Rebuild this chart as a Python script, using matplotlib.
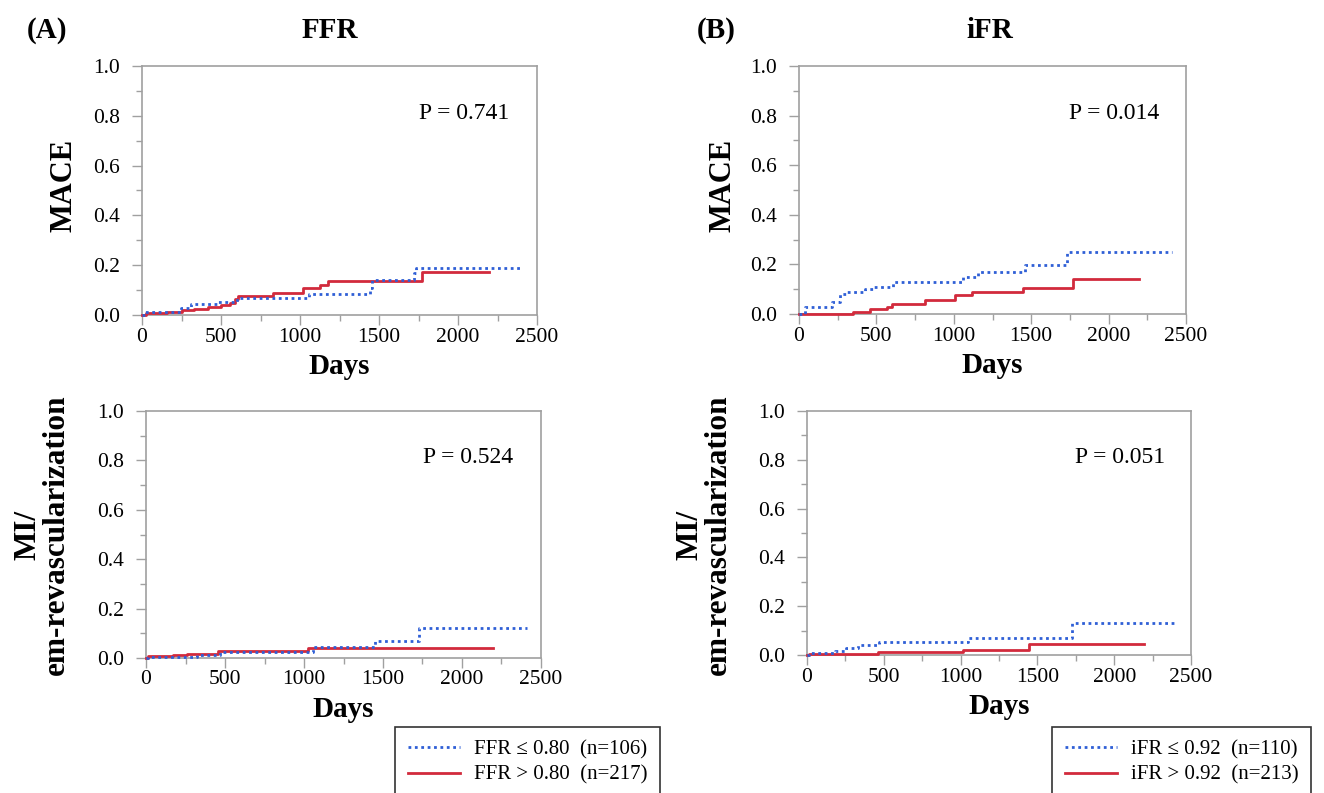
import matplotlib
matplotlib.use('Agg')
import matplotlib.pyplot as plt
from matplotlib.lines import Line2D
from matplotlib.ticker import MultipleLocator

plt.rcParams['font.family'] = ['Liberation Serif', 'DejaVu Serif']

# FFR, MACE
ffr_mace_low_days = [0, 20, 245, 310, 480, 600, 1060, 1440, 1455, 1720, 1735, 2410]
ffr_mace_low_vals = [0, 0.012, 0.030, 0.043, 0.054, 0.068, 0.085, 0.110, 0.139, 0.170, 0.189, 0.189]
ffr_mace_high_days = [0, 25, 160, 250, 330, 420, 500, 560, 590, 610, 830, 1020, 1125, 1180, 1775, 2195]
ffr_mace_high_vals = [0, 0.008, 0.012, 0.020, 0.025, 0.033, 0.040, 0.050, 0.063, 0.077, 0.090, 0.108, 0.120,
                      0.136, 0.173, 0.173]

# iFR, MACE
ifr_mace_low_days = [0, 39, 211, 265, 308, 427, 481, 610, 1062, 1159, 1461, 1731, 2409]
ifr_mace_low_vals = [0, 0.030, 0.050, 0.080, 0.090, 0.100, 0.110, 0.130, 0.148, 0.170, 0.197, 0.248, 0.248]
ifr_mace_high_days = [0, 351, 459, 567, 599, 815, 1009, 1116, 1444, 1769, 2194]
ifr_mace_high_vals = [0, 0.009, 0.019, 0.030, 0.042, 0.056, 0.077, 0.087, 0.106, 0.141, 0.141]

# FFR, MI / em-revascularization
ffr_mi_low_days = [0, 10, 321, 468, 1055, 1449, 1730, 2409]
ffr_mi_low_vals = [0, 0.004, 0.013, 0.024, 0.043, 0.070, 0.122, 0.122]
ffr_mi_high_days = [0, 10, 173, 257, 458, 1027, 2198]
ffr_mi_high_vals = [0, 0.007, 0.012, 0.018, 0.030, 0.040, 0.040]

# iFR, MI / em-revascularization
ifr_mi_low_days = [0, 10, 180, 257, 333, 470, 1050, 1724, 2387]
ifr_mi_low_vals = [0, 0.008, 0.018, 0.027, 0.041, 0.052, 0.070, 0.130, 0.130]
ifr_mi_high_days = [0, 10, 463, 1017, 1448, 2191]
ifr_mi_high_vals = [0, 0.004, 0.011, 0.020, 0.044, 0.044]

p_values = ['P = 0.741', 'P = 0.014', 'P = 0.524', 'P = 0.051']
ffr_labels = ['FFR \u2264 0.80  (n=106)', 'FFR > 0.80  (n=217)']
ifr_labels = ['iFR \u2264 0.92  (n=110)', 'iFR > 0.92  (n=213)']

BLUE = '#2f5fd6'
RED = '#d22a3c'
GRAY = '#a0a0a0'

W, H = 1324, 793
fig = plt.figure(figsize=(W / 100, H / 100), dpi=100)


def px_axes(left, right, bottom, top):
    return fig.add_axes([left / W, 1 - bottom / H, (right - left) / W, (bottom - top) / H])


def km_panel(ax, low_d, low_v, high_d, high_v, ptext):
    ax.step(low_d, low_v, where='post', color=BLUE, lw=2, linestyle=(0, (1, 1.3)), clip_on=False, zorder=4)
    ax.step(high_d, high_v, where='post', color=RED, lw=2, clip_on=False, zorder=3)
    ax.set_xlim(0, 2500)
    ax.set_ylim(0, 1.0)
    ax.xaxis.set_major_locator(MultipleLocator(500))
    ax.xaxis.set_minor_locator(MultipleLocator(250))
    ax.yaxis.set_major_locator(MultipleLocator(0.2))
    ax.yaxis.set_minor_locator(MultipleLocator(0.1))
    ax.yaxis.set_major_formatter(lambda v, p: '%.1f' % v)
    for s in ax.spines.values():
        s.set_color(GRAY)
        s.set_linewidth(1.2)
    ax.tick_params(which='major', direction='out', color=GRAY, labelsize=15.5, length=7, width=1)
    ax.tick_params(which='minor', direction='out', color=GRAY, length=4, width=1)
    ax.tick_params(axis='y', pad=9)
    ax.tick_params(axis='x', pad=2)
    ax.text(0.815, 0.81, ptext, transform=ax.transAxes, ha='center', va='center', fontsize=17)
    ax.set_xlabel('Days', fontsize=21, fontweight='bold', labelpad=5)


ax1 = px_axes(142, 537, 315, 66)
km_panel(ax1, ffr_mace_low_days, ffr_mace_low_vals, ffr_mace_high_days, ffr_mace_high_vals, p_values[0])
ax2 = px_axes(799, 1186, 314, 66)
km_panel(ax2, ifr_mace_low_days, ifr_mace_low_vals, ifr_mace_high_days, ifr_mace_high_vals, p_values[1])
ax3 = px_axes(146, 541, 658, 411)
km_panel(ax3, ffr_mi_low_days, ffr_mi_low_vals, ffr_mi_high_days, ffr_mi_high_vals, p_values[2])
ax4 = px_axes(807, 1191, 655, 411)
km_panel(ax4, ifr_mi_low_days, ifr_mi_low_vals, ifr_mi_high_days, ifr_mi_high_vals, p_values[3])

# y labels
bold = dict(fontweight='bold', rotation=90, ha='center', va='center')
fig.text(64 / W, 1 - 185 / H, 'MACE', fontsize=22, **bold)
fig.text(723 / W, 1 - 185 / H, 'MACE', fontsize=22, **bold)
fig.text(42 / W, 1 - 535 / H, 'MI/\nem-revascularization', fontsize=22.5, linespacing=1.0, **bold)
fig.text(704 / W, 1 - 535 / H, 'MI/\nem-revascularization', fontsize=22.5, linespacing=1.0, **bold)

# titles
fig.text(47 / W, 1 - 30 / H, '(A)', fontsize=21, fontweight='bold', ha='center', va='center')
fig.text(330 / W, 1 - 30 / H, 'FFR', fontsize=21, fontweight='bold', ha='center', va='center')
fig.text(716 / W, 1 - 30 / H, '(B)', fontsize=21, fontweight='bold', ha='center', va='center')
fig.text(990 / W, 1 - 30 / H, 'iFR', fontsize=21, fontweight='bold', ha='center', va='center')


# legends
def handles(labels):
    return [Line2D([], [], color=BLUE, lw=2, linestyle=(0, (1, 1.3)), label=labels[0]),
            Line2D([], [], color=RED, lw=2, label=labels[1])]


for lab, x0 in [(ffr_labels, 395), (ifr_labels, 1052)]:
    leg = fig.legend(handles=handles(lab), loc='upper left', bbox_to_anchor=(x0 / W, 1 - 727 / H),
                     fontsize=15, frameon=True, fancybox=False, edgecolor='black', borderpad=0.6,
                     handlelength=2.5, handletextpad=0.7, labelspacing=0.3, borderaxespad=0)
    leg.get_frame().set_linewidth(1.2)

fig.savefig('out.png', dpi=100)
